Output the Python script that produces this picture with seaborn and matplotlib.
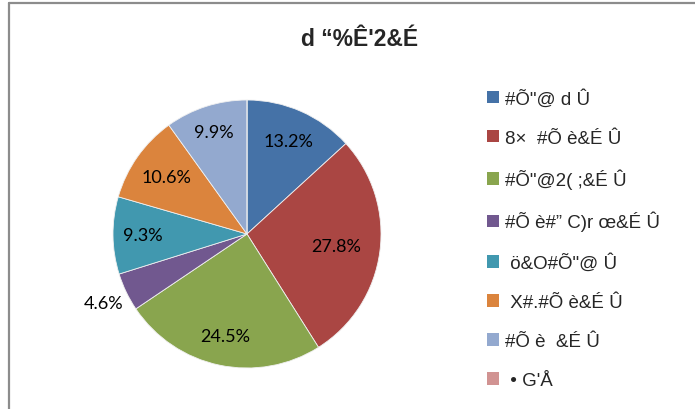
import numpy as np
import matplotlib
matplotlib.use("Agg")
import matplotlib.pyplot as plt
import seaborn as sns

# Chart content
title = "d \u201c%Ê'2&É"
categories = [
    '#Õ"@ d Û',
    '8×  #Õ è&É Û',
    '#Õ"@2( ;&É Û',
    '#Õ è#\u201d C)r œ&É Û',
    ' ö&O#Õ"@ Û',
    ' X#.#Õ è&É Û',
    '#Õ è  &É Û',
    ' • G\'Å',
]
shares = [13.2, 27.8, 24.5, 4.6, 9.3, 10.6, 9.9, 0.0]
colors = ['#4572A7', '#AA4643', '#89A54E', '#71588F',
          '#4198AF', '#DB843D', '#93A9CF', '#D19392']

sns.set_theme(style="white")
plt.rcParams['font.family'] = ['Liberation Sans', 'DejaVu Sans']
palette = sns.color_palette(colors)

W, H = 695, 410
fig = plt.figure(figsize=(W / 100, H / 100), dpi=100)
fig.patch.set_facecolor('white')

# chart-area frame (top and left edges visible)
frame_kw = dict(color='#8c8c8c', linewidth=1.6, transform=fig.transFigure)
fig.add_artist(plt.Line2D([8.5 / W, 1.0], [1 - 4 / H, 1 - 4 / H], **frame_kw))
fig.add_artist(plt.Line2D([8.5 / W, 8.5 / W], [0.0, 1 - 4 / H], **frame_kw))

# pie axes: centre (247, 235), radius 134 px
cx, cy, r = 247, 235, 134
ax = fig.add_axes([(cx - r) / W, (H - cy - r) / H, 2 * r / W, 2 * r / H])

wedges, texts, autotexts = ax.pie(
    shares,
    colors=palette,
    startangle=90,
    counterclock=False,
    autopct=lambda p: f"{p:.1f}%" if p > 0 else "",
    wedgeprops=dict(edgecolor='#f0f0f0', linewidth=0.6),
    textprops=dict(fontsize=13, family=['Lato', 'DejaVu Sans'], color='black'),
)
ax.set_xlim(-1, 1)
ax.set_ylim(-1, 1)
ax.set_aspect('equal')
ax.axis('off')

# per-slice label distance from the centre (fraction of radius)
label_dist = [0.76, 0.67, 0.78, 1.19, 0.78, 0.74, 0.80, 0.8]
for w, t, d in zip(wedges, autotexts, label_dist):
    mid = np.deg2rad((w.theta1 + w.theta2) / 2)
    t.set_position((d * np.cos(mid), d * np.sin(mid)))
    t.set_ha('center')
    t.set_va('center')

fig.text(360 / W, 1 - 40 / H, title, ha='center', va='center',
         fontsize=16.5, fontweight='bold')

leg = fig.legend(
    wedges, categories,
    loc='upper left', bbox_to_anchor=(487 / W, 1 - 90 / H),
    frameon=False, fontsize=13.5,
    handlelength=0.64, handleheight=0.64, handletextpad=0.3,
    labelspacing=1.17, borderaxespad=0, borderpad=0,
)
for h in leg.legend_handles:
    h.set_edgecolor('none')

fig.savefig('out.png', dpi=100, facecolor='white')
